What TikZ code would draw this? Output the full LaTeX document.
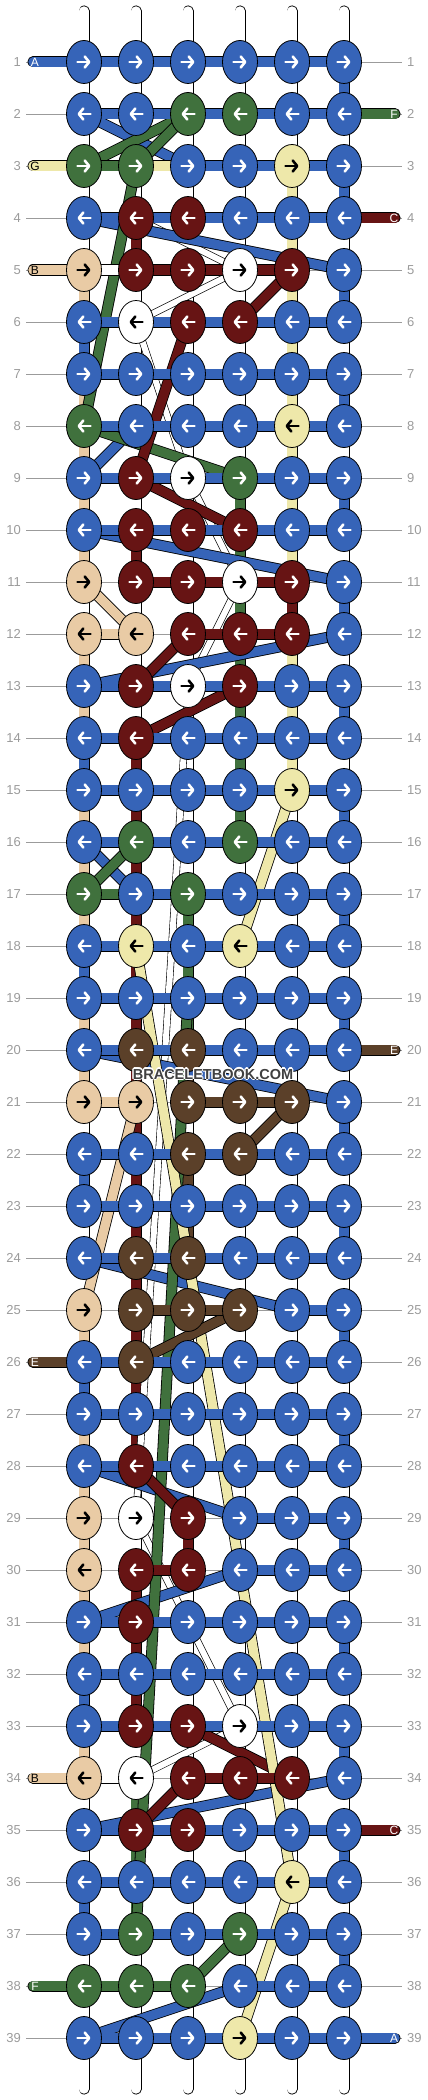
\documentclass[tikz,border=0pt]{standalone}
\usepackage{fontspec}
\setmainfont{Liberation Sans}
\usetikzlibrary{shapes.geometric, backgrounds, arrows.meta}

\definecolor{kb}{RGB}{54,100,184}
\definecolor{kg}{RGB}{64,113,61}
\definecolor{ky}{RGB}{238,232,170}
\definecolor{kr}{RGB}{103,20,20}
\definecolor{kt}{RGB}{233,203,165}
\definecolor{kn}{RGB}{91,64,41}
\definecolor{kw}{RGB}{255,255,255}
\definecolor{labelgray}{RGB}{155,155,155}

\tikzset{
  knot/.style={ellipse, draw=black, line width=0.8pt, minimum width=35pt, minimum height=43pt, inner sep=0pt},
  thread/.style={double=#1, double distance=9.4pt, line width=0.8pt},
  strand/.style={double=white, double distance=6pt, line width=0.6pt},
  rowline/.style={draw=labelgray, line width=0.8pt},
  rownum/.style={text=labelgray, font=\fontsize{13}{13}\selectfont, inner sep=0pt},
  tag/.style={font=\fontsize{12}{12}\selectfont, inner sep=0pt},
  markfont/.style={font=\bfseries\fontsize{14.5}{14.5}\selectfont, inner sep=0pt},
  knotarrow/.style={line width=2.6pt, line cap=round, -{Straight Barb[length=4.5pt, width=11pt, round]}},
  bar-b/.style={thread=kb}, bar-g/.style={thread=kg}, bar-y/.style={thread=ky},
  bar-r/.style={thread=kr}, bar-t/.style={thread=kt}, bar-n/.style={thread=kn},
  bar-w/.style={thread=kw}, bar-x/.style={draw opacity=0},
  ink-b/.style={white}, ink-g/.style={white}, ink-r/.style={white}, ink-n/.style={white},
  ink-y/.style={black}, ink-t/.style={black}, ink-w/.style={black}
}

\begin{document}
\begin{tikzpicture}[x=1pt, y=-1pt]
\useasboundingbox (0,0) rectangle (428,2100);

\foreach \r/\row in {
  1/{b,b,b,b,b,b}, 2/{b,b,g,g,b,b}, 3/{g,g,b,b,y,b}, 4/{b,r,r,b,b,b},
  5/{t,r,r,w,r,b}, 6/{b,w,r,r,b,b}, 7/{b,b,b,b,b,b}, 8/{g,b,b,b,y,b},
  9/{b,r,w,g,b,b}, 10/{b,r,r,r,b,b}, 11/{t,r,r,w,r,b}, 12/{t,t,r,r,r,b},
  13/{b,r,w,r,b,b}, 14/{b,r,b,b,b,b}, 15/{b,b,b,b,y,b}, 16/{b,g,b,g,b,b},
  17/{g,b,g,b,b,b}, 18/{b,y,b,y,b,b}, 19/{b,b,b,b,b,b}, 20/{b,n,n,b,b,b},
  21/{t,t,n,n,n,b}, 22/{b,b,n,n,b,b}, 23/{b,b,b,b,b,b}, 24/{b,n,n,b,b,b},
  25/{t,n,n,n,b,b}, 26/{b,n,b,b,b,b}, 27/{b,b,b,b,b,b}, 28/{b,r,b,b,b,b},
  29/{t,w,r,b,b,b}, 30/{t,r,r,b,b,b}, 31/{b,r,b,b,b,b}, 32/{b,b,b,b,b,b},
  33/{b,r,r,w,b,b}, 34/{t,w,r,r,r,b}, 35/{b,r,r,b,b,b}, 36/{b,b,b,b,y,b},
  37/{b,g,b,g,b,b}, 38/{g,g,g,b,b,b}, 39/{b,b,b,y,b,b}}{
  \foreach \k [count=\c] in \row {
    \node[knot, fill=k\k] (n-\r-\c) at ({32+52*\c},{10+52*\r}) {};
    \pgfmathsetmacro\xa{isodd(\r) ? -6.5 : 6.5}
    \pgfmathsetmacro\xb{-\xa}
    \draw[knotarrow, ink-\k] ([xshift=\xa pt]n-\r-\c.center) -- ([xshift=\xb pt]n-\r-\c.center);
  }
}

\foreach \r in {1,...,39} {
  \node[rownum, anchor=east] (lnum-\r) at (21,{10+52*\r}) {\r};
  \node[rownum, anchor=west] (rnum-\r) at (407,{10+52*\r}) {\r};
}

\begin{scope}[on background layer]
  \foreach \c in {1,...,6} {
    \coordinate (top-\c) at ({32+52*\c},11);
    \coordinate (bot-\c) at ({32+52*\c},2089);
    \draw[thread=white, line cap=round] (top-\c) -- (bot-\c);
  }
  \foreach \r in {1,...,39}
    \draw[rowline, shorten <=5pt, shorten >=5pt] (lnum-\r) -- (rnum-\r);

  \foreach \c/\col in {
    1/{w,w,w,w,t,b,t,t,t,t,w,t,t,b,t,t,t,b,t,t,w,b,w,w,t,b,t,t,t,t,t,b,t,w,w,b,w,w},
    2/{w,w,w,r,w,w,w,w,w,r,w,w,w,r,r,r,r,r,r,r,r,r,r,r,r,r,r,w,w,r,r,r,w,g,g,g,w,w},
    3/{w,w,w,w,w,w,w,w,w,w,w,w,w,w,w,w,g,g,g,n,w,n,n,w,w,w,w,w,r,w,w,w,w,w,w,w,w,w},
    4/{w,w,w,w,w,w,w,w,g,g,g,g,g,g,g,w,w,w,w,w,w,w,w,w,w,w,w,w,w,w,w,w,w,w,w,w,w,w},
    5/{w,w,y,y,y,y,y,y,y,y,r,y,y,y,w,w,w,w,w,w,w,w,w,w,w,w,w,w,w,w,w,w,w,w,w,w,w,w},
    6/{b,w,b,w,b,w,b,w,b,w,b,w,b,w,b,w,b,w,b,w,b,w,b,w,b,w,b,w,b,w,b,w,b,w,b,w,b,w}}{
    \foreach \k [count=\g] in \col {
      \pgfmathtruncatemacro\h{\g+1}
      \draw[bar-\k] (n-\g-\c.center) -- (n-\h-\c.center);
    }
  }

  \foreach \a/\b in {4-2/5-4, 5-4/6-2, 6-2/9-3, 9-3/11-4, 11-4/13-3, 13-3/29-2, 29-2/33-4, 33-4/34-2}
    \draw[strand] (n-\a.center) -- (n-\b.center);

  \foreach \k/\a/\b in {
    b/2-1/3-3, b/4-1/5-6, b/8-2/9-1, b/10-1/11-6, b/12-6/13-1, b/16-1/17-2,
    b/20-1/21-6, b/24-1/25-5, b/28-1/29-4, b/30-4/31-1, b/34-6/35-1, b/38-4/39-1,
    g/2-3/3-1, g/2-3/3-2, g/3-2/8-1, g/8-1/9-4, g/16-2/17-1, g/19-3/37-2, g/37-4/38-3,
    r/5-5/6-4, r/6-3/9-2, r/9-2/10-4, r/12-3/13-2, r/13-4/14-2, r/28-2/29-3,
    r/33-3/34-5, r/34-3/35-2,
    y/15-5/18-4, y/18-2/36-5, y/36-5/39-4,
    t/11-1/12-2, t/21-2/25-1,
    n/21-5/22-4, n/25-4/26-2}
    \draw[bar-\k] (n-\a.center) -- (n-\b.center);

  \foreach \r/\row in {
    1/{b,b,b,b,b}, 2/{b,b,b,b,b}, 3/{g,y,b,b,b}, 4/{b,b,b,b,b}, 5/{w,r,r,r,x},
    6/{b,b,b,b,b}, 7/{b,b,b,b,b}, 8/{b,b,b,b,b}, 9/{b,b,b,b,b}, 10/{b,b,b,b,b},
    11/{x,r,r,r,x}, 12/{t,x,r,r,x}, 13/{b,b,b,b,b}, 14/{b,b,b,b,b}, 15/{b,b,b,b,b},
    16/{b,b,b,b,b}, 17/{g,b,b,b,b}, 18/{b,b,b,b,b}, 19/{b,b,b,b,b}, 20/{b,b,b,b,b},
    21/{t,x,n,n,x}, 22/{b,b,b,b,b}, 23/{b,b,b,b,b}, 24/{b,b,b,b,b}, 25/{x,n,n,x,b},
    26/{b,b,b,b,b}, 27/{b,b,b,b,b}, 28/{b,b,b,b,b}, 29/{x,x,x,b,b}, 30/{x,r,x,b,b},
    31/{b,b,b,b,b}, 32/{b,b,b,b,b}, 33/{b,b,b,b,b}, 34/{w,x,r,r,x}, 35/{b,b,b,b,b},
    36/{b,b,b,b,b}, 37/{b,b,b,b,b}, 38/{g,g,x,b,b}, 39/{b,b,b,b,b}}{
    \foreach \k [count=\c] in \row {
      \pgfmathtruncatemacro\d{\c+1}
      \draw[bar-\k] (n-\r-\c.center) -- (n-\r-\d.center);
    }
  }

  \foreach \r/\t/\k in {1/A/b, 3/G/y, 5/B/t, 26/E/n, 34/B/t, 38/F/g} {
    \coordinate (in-\r) at (33,{10+52*\r});
    \draw[bar-\k, line cap=round] (in-\r) -- (n-\r-1.center);
    \node[tag, ink-\k] (tag-\r) at (35,{10+52*\r}) {\t};
  }
  \foreach \r/\t/\k in {2/F/g, 4/C/r, 20/E/n, 35/C/r, 39/A/b} {
    \coordinate (out-\r) at (395,{10+52*\r});
    \draw[bar-\k, line cap=round] (n-\r-6.center) -- (out-\r);
    \node[tag, ink-\k] (tag-\r) at (394,{10+52*\r}) {\t};
  }
\end{scope}

\foreach \dx/\dy [count=\i] in {-1.2/0, 1.2/0, 0/-1.2, 0/1.2, -0.9/-0.9, 0.9/-0.9, -0.9/0.9, 0.9/0.9}
  \node[markfont, text=white] (halo-\i) at ({213+\dx},{1074+\dy}) {BRACELETBOOK.COM};
\node[markfont, text=black!75] (mark) at (213,1074) {BRACELETBOOK.COM};

\end{tikzpicture}
\end{document}
